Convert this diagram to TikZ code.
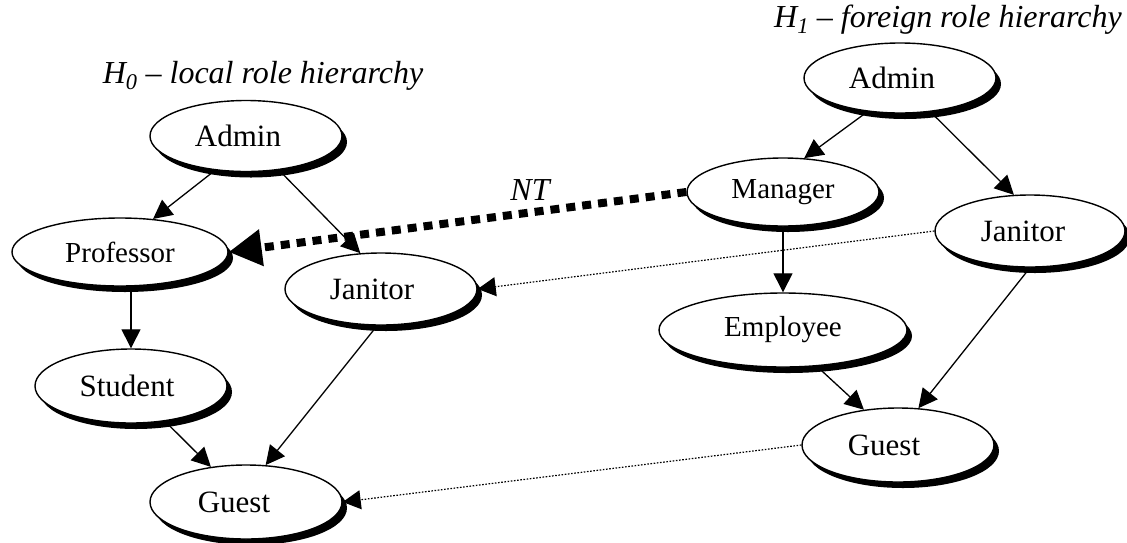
\documentclass[tikz,border=0pt]{standalone}
\usepackage{fontspec}
\setmainfont{Liberation Serif}
\usetikzlibrary{shapes.geometric, arrows.meta, shadows}

% shift a node text to the left by half of the given amount
\newcommand{\lft}[2]{\hspace*{-#1}#2}

\begin{document}
\begin{tikzpicture}[x=1pt, y=-1pt,
  role/.style={ellipse, draw, line width=1.4pt, fill=white, inner sep=0pt,
    minimum width=192pt, minimum height=74pt,
    font=\fontsize{31}{36}\selectfont,
    drop shadow={shadow xshift=5pt, shadow yshift=-6pt, opacity=1, fill=black}},
  smallrole/.style={role, font=\fontsize{29}{34}\selectfont},
  inherit/.style={line width=1.3pt, -{Triangle[length=19pt,width=19pt]}},
  mapto/.style={line width=1.2pt, dash pattern=on 1.6pt off 1.6pt,
    -{Triangle[length=18pt,width=19pt]}},
  trust/.style={line width=8pt, dash pattern=on 9pt off 7pt,
    -{Triangle[length=33pt,width=35pt]}},
  title/.style={font=\fontsize{32}{38}\selectfont\itshape, inner sep=0pt}
]
\useasboundingbox (0,0) rectangle (1127,542);

% local hierarchy H0
\node[role, minimum height=71pt] (adminL) at (246,136) {\lft{16pt}{Admin}};
\node[smallrole, minimum width=216pt, minimum height=68pt] (prof) at (120,252) {Professor};
\node[role, minimum height=72pt] (janL) at (381,289) {\lft{18pt}{Janitor}};
\node[role] (stu) at (131,386) {\lft{8pt}{Student}};
\node[role] (guestL) at (246,502) {\lft{24pt}{Guest}};

% foreign hierarchy H1
\node[role, minimum height=70pt] (adminR) at (900,78) {\lft{16pt}{Admin}};
\node[smallrole, minimum height=68pt] (mgr) at (783,192) {Manager};
\node[role, minimum width=190pt, minimum height=72pt] (janR) at (1030,231) {\lft{14pt}{Janitor}};
\node[smallrole, minimum width=248pt, minimum height=74pt] (emp) at (783,330) {Employee};
\node[role] (guestR) at (898,445) {\lft{28pt}{Guest}};

% titles
\node[title, anchor=base] (h0) at (263,83) {H\textsubscript{0} – local role hierarchy};
\node[title, anchor=base] (h1) at (948,27) {H\textsubscript{1} – foreign role hierarchy};

% inheritance edges
\draw[inherit] (adminL.228) -- (prof.45);
\draw[inherit] (adminL.-46) -- (janL.120);
\draw[inherit] (prof.south -| stu.north) -- (stu.north);
\draw[inherit] (stu.-46) -- (guestL.135);
\draw[inherit] (janL.-96) -- (guestL.62);

\draw[inherit] (adminR.226) -- (mgr.58);
\draw[inherit] (adminR.-48) -- (janR.114);
\draw[inherit] (mgr.south) -- (emp.north);
\draw[inherit] (emp.-47) -- (guestR.134);
\draw[inherit] (janR.-90) -- (guestR.61);

% role mappings between the hierarchies
\draw[mapto] (janR.west) -- (janL.east);
\draw[mapto] (guestR.west) -- (guestL.east);
\draw[trust] (mgr.west) -- (prof.east);
\node[title, anchor=base] (nt) at (530,200) {NT};
\end{tikzpicture}
\end{document}
